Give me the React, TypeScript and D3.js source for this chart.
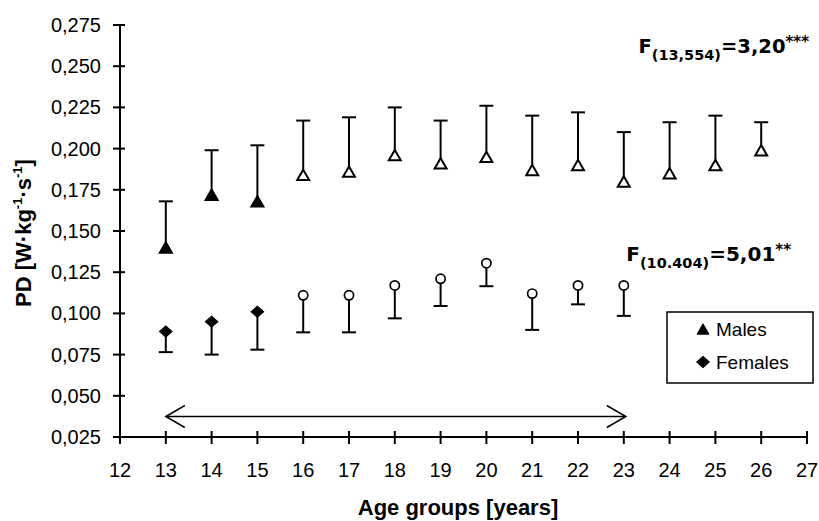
import React from "react";
import * as d3 from "d3";

const ages = [13, 14, 15, 16, 17, 18, 19, 20, 21, 22, 23, 24, 25, 26];
const maleMean = [0.140, 0.172, 0.168, 0.184, 0.186, 0.196, 0.191, 0.195, 0.187, 0.190, 0.180, 0.185, 0.190, 0.199];
const maleUpper = [0.168, 0.199, 0.202, 0.217, 0.219, 0.225, 0.217, 0.226, 0.220, 0.222, 0.210, 0.216, 0.220, 0.216];
const femaleAges = [13, 14, 15, 16, 17, 18, 19, 20, 21, 22, 23];
const femaleMean = [0.089, 0.095, 0.101, 0.111, 0.111, 0.117, 0.121, 0.1305, 0.112, 0.117, 0.117];
const femaleLower = [0.0765, 0.075, 0.078, 0.0885, 0.0885, 0.097, 0.1045, 0.1165, 0.090, 0.1055, 0.0985];
const lastFilledAge = 15;
const xTicks = [12, 13, 14, 15, 16, 17, 18, 19, 20, 21, 22, 23, 24, 25, 26, 27];
const yTicks = [0.025, 0.05, 0.075, 0.1, 0.125, 0.15, 0.175, 0.2, 0.225, 0.25, 0.275];
const arrowRange = [13, 23];

const W = 819;
const H = 521;
const FONT = "'Liberation Sans', Arial, sans-serif";
const WIDE = "'DejaVu Sans', Verdana, sans-serif";

export default function App() {
  const x = d3.scaleLinear().domain([12, 27]).range([120, 807]);
  const y = d3.scaleLinear().domain([0.025, 0.275]).range([437, 25]);
  const fmt = (v: number) => d3.format(".3f")(v).replace(".", ",");
  const tri = d3.symbol().type(d3.symbolTriangle).size(62);
  const sq = d3.symbol().type(d3.symbolSquare).size(68);
  const capW = 7;
  const triOff = 1.7;

  const ax0 = x(arrowRange[0]);
  const ax1 = x(arrowRange[1]) + 2;
  const ay = 416.5;

  const diamond = (cx: number, cy: number, key: string) => (
    <path key={key} d={sq() as string} transform={`translate(${cx},${cy}) scale(1.08,0.95) rotate(45)`} fill="#000" stroke="#000" strokeWidth={1} />
  );

  return (
    <svg width={W} height={H} style={{ position: "fixed", left: 0, top: 0, background: "#fff" }} fontFamily={FONT}>
      <rect x={0} y={0} width={W} height={H} fill="#fff" />
      {/* axes */}
      <line x1={x(12)} x2={x(12)} y1={y(0.275)} y2={y(0.025)} stroke="#000" strokeWidth={2} />
      <line x1={x(12)} x2={x(27)} y1={y(0.025)} y2={y(0.025)} stroke="#000" strokeWidth={2} />
      {yTicks.map((t) => (
        <g key={"yt" + t}>
          <line x1={x(12) - 7} x2={x(12) + 5} y1={y(t)} y2={y(t)} stroke="#000" strokeWidth={2} />
          <text x={101} y={y(t)} dy="0.35em" textAnchor="end" fontSize={20} fill="#000">
            {fmt(t)}
          </text>
        </g>
      ))}
      {xTicks.map((t) => (
        <g key={"xt" + t}>
          <line x1={x(t)} x2={x(t)} y1={y(0.025) - 6} y2={y(0.025) + 7} stroke="#000" strokeWidth={2} />
          <text x={x(t)} y={477} textAnchor="middle" fontSize={20} fill="#000">
            {t}
          </text>
        </g>
      ))}
      {/* axis titles */}
      <text x={458} y={515} textAnchor="middle" fontSize={22} fontWeight="bold" fill="#000">
        Age groups [years]
      </text>
      <text transform={`translate(31,${233}) rotate(-90)`} textAnchor="middle" fontSize={22} fontWeight="bold" fill="#000">
        PD [W·kg<tspan fontSize={13} dy={-9}>-1</tspan><tspan dy={9}>·s</tspan><tspan fontSize={13} dy={-9}>-1</tspan><tspan dy={9}>]</tspan>
      </text>

      {/* male error bars */}
      {ages.map((a, i) => (
        <g key={"m" + a}>
          <line x1={x(a)} x2={x(a)} y1={y(maleMean[i])} y2={y(maleUpper[i])} stroke="#000" strokeWidth={2} />
          <line x1={x(a) - capW} x2={x(a) + capW} y1={y(maleUpper[i])} y2={y(maleUpper[i])} stroke="#000" strokeWidth={2} />
          <path
            d={tri() as string}
            transform={`translate(${x(a)},${y(maleMean[i]) + triOff})`}
            fill={a <= lastFilledAge ? "#000" : "#fff"}
            stroke="#000"
            strokeWidth={2}
          />
        </g>
      ))}
      {/* female error bars */}
      {femaleAges.map((a, i) => (
        <g key={"f" + a}>
          <line x1={x(a)} x2={x(a)} y1={y(femaleMean[i])} y2={y(femaleLower[i])} stroke="#000" strokeWidth={2} />
          <line x1={x(a) - capW} x2={x(a) + capW} y1={y(femaleLower[i])} y2={y(femaleLower[i])} stroke="#000" strokeWidth={2} />
          {a <= lastFilledAge ? (
            diamond(x(a), y(femaleMean[i]), "d" + a)
          ) : (
            <circle cx={x(a)} cy={y(femaleMean[i])} r={4.6} fill="#fff" stroke="#000" strokeWidth={1.7} />
          )}
        </g>
      ))}

      {/* double arrow */}
      <g stroke="#000" strokeWidth={1.5} fill="none">
        <line x1={ax0} x2={ax1} y1={ay} y2={ay} />
        <polyline points={`${ax0 + 19},${ay - 11} ${ax0},${ay} ${ax0 + 19},${ay + 11}`} />
        <polyline points={`${ax1 - 19},${ay - 11} ${ax1},${ay} ${ax1 - 19},${ay + 11}`} />
      </g>

      {/* F statistics */}
      <text x={809} y={53} textAnchor="end" fontFamily={WIDE} fontSize={19.5} fontWeight="bold" fill="#000">
        F<tspan fontSize={14.5} dy={7}>(13,554)</tspan><tspan dy={-7}>=3,20</tspan><tspan fontSize={15} dy={-6}>***</tspan>
      </text>
      <text x={791} y={261} textAnchor="end" fontFamily={WIDE} fontSize={20} fontWeight="bold" fill="#000">
        F<tspan fontSize={14.5} dy={7}>(10.404)</tspan><tspan dy={-7}>=5,01</tspan><tspan fontSize={15} dy={-6}>**</tspan>
      </text>

      {/* legend */}
      <rect x={667} y={312} width={146} height={71} fill="#fff" stroke="#000" strokeWidth={1.5} />
      <path d={tri() as string} transform={`translate(703,${329 + triOff})`} fill="#000" stroke="#000" strokeWidth={1} />
      <text x={716} y={329} dy="0.35em" fontSize={19} fill="#000">Males</text>
      {diamond(703, 362, "legd")}
      <text x={716} y={362} dy="0.35em" fontSize={19} fill="#000">Females</text>
    </svg>
  );
}
